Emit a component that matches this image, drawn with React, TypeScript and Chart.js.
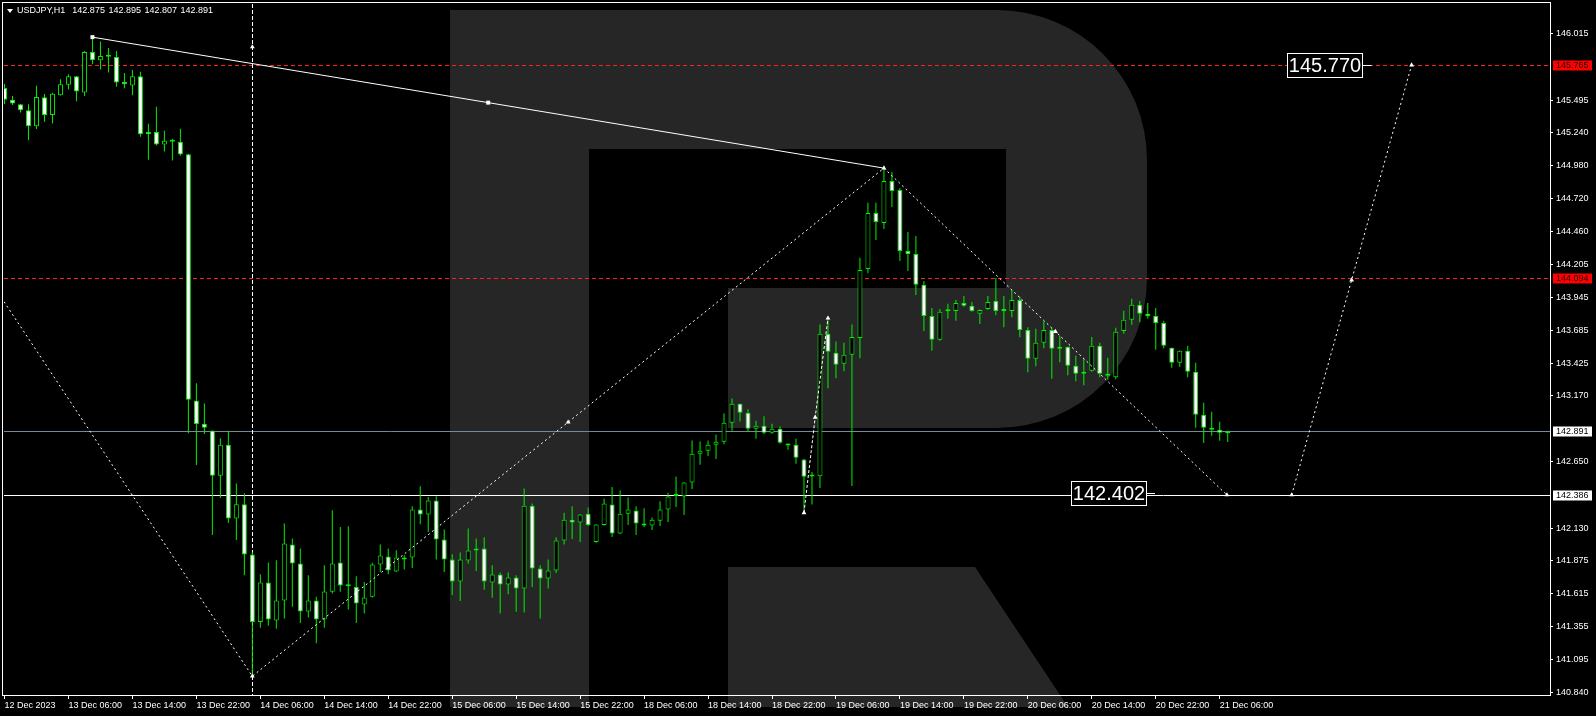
import React, { useEffect, useRef } from 'react';
import { Chart, registerables } from 'chart.js';

Chart.register(...registerables);

const symbolTitle = 'USDJPY,H1';
const lastQuote = ['142.875', '142.895', '142.807', '142.891'];

const opens = [
  145.591, 145.497, 145.463, 145.416, 145.290, 145.518, 145.377, 145.534, 145.615, 145.683,
  145.554, 145.874, 145.808, 145.835, 145.834, 145.638, 145.609, 145.683, 145.245, 145.245,
  145.146, 145.167, 145.167, 145.070, 143.133, 142.950, 142.895, 142.542, 142.785, 142.204,
  142.317, 141.922, 141.392, 141.702, 141.403, 141.560, 142.000, 141.851, 141.474, 141.560,
  141.411, 141.628, 141.859, 141.673, 141.667, 141.529, 141.589, 141.843, 141.906, 141.788,
  141.882, 141.898, 142.275, 142.236, 142.346, 142.039, 141.882, 141.710, 141.874, 141.953,
  141.969, 141.702, 141.764, 141.686, 141.741, 141.655, 142.306, 141.812, 141.733, 141.796,
  142.032, 142.196, 142.173, 142.243, 142.020, 142.154, 142.314, 142.086, 142.243, 142.267,
  142.165, 142.149, 142.188, 142.275, 142.382, 142.377, 142.487, 142.715, 142.738, 142.785,
  142.809, 142.958, 143.107, 143.037, 142.911, 142.934, 142.880, 142.911, 142.793, 142.785,
  142.668, 142.536, 142.538, 143.657, 143.508, 143.421, 143.492, 143.625, 144.167, 144.607,
  144.529, 144.858, 144.788, 144.309, 144.285, 144.042, 143.798, 143.610, 143.834, 143.837,
  143.900, 143.877, 143.814, 143.853, 143.916, 143.837, 143.837, 143.924, 143.688, 143.461,
  143.586, 143.688, 143.539, 143.555, 143.406, 143.359, 143.366, 143.563, 143.343, 143.316,
  143.680, 143.767, 143.885, 143.814, 143.798, 143.743, 143.547, 143.429, 143.523, 143.359,
  143.021, 142.919, 142.903, 142.875,
];

const highs = [
  145.622, 145.528, 145.465, 145.463, 145.607, 145.542, 145.552, 145.659, 145.699, 145.685,
  145.882, 145.991, 145.955, 145.905, 145.882, 145.709, 145.732, 145.717, 145.308, 145.442,
  145.253, 145.191, 145.269, 145.073, 143.269, 143.110, 142.898, 142.835, 142.895, 142.481,
  142.403, 141.940, 141.767, 141.859, 141.877, 142.165, 142.047, 141.969, 141.759, 141.589,
  141.838, 142.269, 142.138, 142.144, 141.751, 141.706, 141.856, 142.000, 141.969, 141.955,
  141.916, 142.301, 142.458, 142.374, 142.379, 142.118, 141.924, 141.937, 142.126, 142.047,
  142.057, 141.838, 141.780, 141.780, 141.759, 142.440, 142.322, 141.838, 141.882, 142.057,
  142.251, 142.301, 142.238, 142.291, 142.160, 142.361, 142.452, 142.426, 142.371, 142.301,
  142.285, 142.212, 142.340, 142.408, 142.536, 142.490, 142.819, 142.811, 142.819, 142.866,
  143.031, 143.149, 143.110, 143.063, 142.974, 143.008, 142.950, 142.929, 142.795, 142.832,
  142.675, 142.570, 143.730, 143.793, 143.596, 143.586, 143.730, 144.256, 144.688, 144.688,
  144.960, 144.929, 144.803, 144.458, 144.426, 144.073, 143.861, 143.853, 143.893, 143.924,
  143.955, 143.908, 143.848, 143.955, 144.097, 143.955, 144.002, 143.950, 143.709, 143.696,
  143.756, 143.704, 143.641, 143.558, 143.484, 143.461, 143.633, 143.586, 143.468, 143.704,
  143.838, 143.932, 143.916, 143.900, 143.861, 143.759, 143.550, 143.526, 143.563, 143.429,
  143.115, 143.044, 142.966, 142.895,
];

const lows = [
  145.465, 145.457, 145.397, 145.180, 145.267, 145.324, 145.311, 145.532, 145.578, 145.485,
  145.528, 145.777, 145.735, 145.711, 145.599, 145.589, 145.534, 145.206, 145.026, 145.138,
  145.091, 145.020, 145.057, 142.876, 142.625, 142.869, 142.075, 142.366, 142.170, 142.036,
  141.759, 140.970, 141.345, 141.361, 141.337, 141.419, 141.510, 141.384, 141.427, 141.223,
  141.345, 141.615, 141.628, 141.490, 141.384, 141.458, 141.584, 141.785, 141.767, 141.785,
  141.804, 141.816, 142.159, 142.099, 141.882, 141.785, 141.604, 141.557, 141.851, 141.793,
  141.644, 141.581, 141.458, 141.610, 141.471, 141.466, 141.667, 141.419, 141.655, 141.777,
  142.000, 142.044, 142.020, 142.146, 142.015, 142.150, 142.060, 142.083, 142.154, 142.075,
  142.138, 142.115, 142.146, 142.177, 142.295, 142.232, 142.437, 142.628, 142.696, 142.672,
  142.788, 142.895, 142.968, 142.887, 142.832, 142.869, 142.872, 142.793, 142.746, 142.636,
  142.269, 142.314, 142.445, 143.230, 143.308, 143.363, 142.460, 143.465, 144.133, 144.395,
  144.481, 144.654, 144.230, 144.152, 143.963, 143.680, 143.523, 143.602, 143.775, 143.759,
  143.869, 143.830, 143.735, 143.845, 143.803, 143.709, 143.787, 143.630, 143.355, 143.403,
  143.544, 143.304, 143.434, 143.332, 143.285, 143.253, 143.359, 143.316, 143.296, 143.300,
  143.657, 143.728, 143.751, 143.775, 143.531, 143.544, 143.390, 143.398, 143.316, 142.919,
  142.798, 142.856, 142.817, 142.807,
];

const closes = [
  145.497, 145.469, 145.416, 145.290, 145.520, 145.377, 145.544, 145.620, 145.683, 145.563,
  145.874, 145.808, 145.842, 145.838, 145.633, 145.620, 145.683, 145.227, 145.227, 145.146,
  145.175, 145.171, 145.067, 143.139, 142.947, 142.919, 142.542, 142.785, 142.204, 142.317,
  141.922, 141.392, 141.702, 141.411, 141.560, 142.008, 141.851, 141.474, 141.560, 141.411,
  141.631, 141.851, 141.678, 141.677, 141.537, 141.584, 141.843, 141.914, 141.796, 141.898,
  141.898, 142.275, 142.236, 142.346, 142.039, 141.882, 141.710, 141.882, 141.953, 141.969,
  141.710, 141.764, 141.686, 141.741, 141.655, 142.306, 141.812, 141.733, 141.796, 142.032,
  142.196, 142.173, 142.236, 142.154, 142.157, 142.322, 142.086, 142.243, 142.275, 142.165,
  142.149, 142.196, 142.275, 142.377, 142.385, 142.487, 142.715, 142.738, 142.785, 142.809,
  142.958, 143.107, 143.037, 142.911, 142.934, 142.880, 142.911, 142.801, 142.778, 142.683,
  142.534, 142.540, 143.657, 143.516, 143.413, 143.492, 143.633, 144.159, 144.607, 144.536,
  144.858, 144.780, 144.309, 144.285, 144.042, 143.798, 143.610, 143.830, 143.837, 143.900,
  143.877, 143.837, 143.845, 143.908, 143.837, 143.840, 143.924, 143.688, 143.461, 143.586,
  143.688, 143.539, 143.555, 143.406, 143.343, 143.343, 143.563, 143.343, 143.327, 143.673,
  143.767, 143.885, 143.814, 143.798, 143.743, 143.563, 143.429, 143.523, 143.359, 143.021,
  142.919, 142.903, 142.880, 142.891,
];

const timeLabels = [
  '12 Dec 2023', '13 Dec 06:00', '13 Dec 14:00', '13 Dec 22:00', '14 Dec 06:00',
  '14 Dec 14:00', '14 Dec 22:00', '15 Dec 06:00', '15 Dec 14:00', '15 Dec 22:00',
  '18 Dec 06:00', '18 Dec 14:00', '18 Dec 22:00', '19 Dec 06:00', '19 Dec 14:00',
  '19 Dec 22:00', '20 Dec 06:00', '20 Dec 14:00', '20 Dec 22:00', '21 Dec 06:00',
];
const LABEL_STEP = 8;

const priceTicks = [
  146.015, 145.495, 145.240, 144.980, 144.720, 144.460, 144.205, 143.945, 143.685,
  143.425, 143.170, 142.650, 142.130, 141.875, 141.615, 141.355, 141.095, 140.840,
];

const redLevels = [145.765, 144.094];
const bidLevel = 142.891;
const supportLevel = 142.386;
const vLineIndex = 31;

const trendLine = [{ x: 11, y: 145.99 }, { x: 110, y: 144.96 }];
const trendHandles = [{ x: 11, y: 145.99 }, { x: 60.5, y: 145.475 }];
const forecastDown = [
  { x: -0.0625, y: 143.91 }, { x: 31, y: 140.965 }, { x: 110, y: 144.96 }, { x: 152.9, y: 142.39 },
];
const forecastUp = [{ x: 161, y: 142.39 }, { x: 176, y: 145.77 }];
const spikePath = [{ x: 100, y: 142.25 }, { x: 101.4, y: 143.0 }, { x: 103, y: 143.78 }];
const arrowMarks = [
  { x: 31, y: 145.913 }, { x: 31, y: 140.965 }, { x: 70.5, y: 142.962 }, { x: 110, y: 144.96 },
  { x: 131.45, y: 143.675 }, { x: 152.9, y: 142.39 }, { x: 161, y: 142.39 }, { x: 168.5, y: 144.08 },
  { x: 176, y: 145.77 }, { x: 100, y: 142.25 }, { x: 101.4, y: 143.0 }, { x: 103, y: 143.78 },
];
const targetLabels = [
  { text: '145.770', price: 145.77, right: 169.8, tail: 171 },
  { text: '142.402', price: 142.402, right: 142.8, tail: 143.9 },
];

const X_MIN = -0.0625;
const X_MAX = 193.3125;
const Y_MIN = 140.817;
const Y_MAX = 146.2506;

const GREEN = '#00f000';
const FONT = 'Liberation Sans';

export default function App() {
  const ref = useRef<HTMLCanvasElement | null>(null);

  useEffect(() => {
    document.body.style.margin = '0';
    document.body.style.background = '#000';
    const canvas = ref.current;
    if (!canvas) return;

    const idx = opens.map((_, i) => i);
    const bodyColors = idx.map((i) => {
      const d = closes[i] - opens[i];
      if (Math.abs(d) < 0.005) return GREEN;
      return d > 0 ? '#000000' : '#ffffff';
    });

    const backgroundPlugin = {
      id: 'bgWatermark',
      beforeDraw(chart: any) {
        const ctx = chart.ctx;
        ctx.save();
        ctx.fillStyle = '#000000';
        ctx.fillRect(0, 0, chart.width, chart.height);
        ctx.fillStyle = '#262626';
        ctx.fillRect(450, 10, 139, 697);
        ctx.beginPath();
        ctx.moveTo(589, 10);
        ctx.lineTo(997, 10);
        ctx.arc(997, 160, 150, -Math.PI / 2, 0);
        ctx.lineTo(1147, 278);
        ctx.arc(997, 278, 150, 0, Math.PI / 2);
        ctx.lineTo(728, 428);
        ctx.lineTo(728, 288);
        ctx.lineTo(1006, 288);
        ctx.lineTo(1006, 149);
        ctx.lineTo(589, 149);
        ctx.closePath();
        ctx.fill();
        ctx.beginPath();
        ctx.moveTo(728, 567);
        ctx.lineTo(975, 567);
        ctx.lineTo(1068, 707);
        ctx.lineTo(728, 707);
        ctx.closePath();
        ctx.fill();
        ctx.restore();
      },
      beforeDatasetsDraw(chart: any) {
        const ctx = chart.ctx;
        const { left, right, top, bottom } = chart.chartArea;
        const ys = chart.scales.y;
        const xs = chart.scales.x;
        const hline = (p: number, color: string, dash: number[]) => {
          const y = Math.floor(ys.getPixelForValue(p)) + 0.5;
          ctx.save();
          ctx.strokeStyle = color;
          ctx.lineWidth = 1;
          ctx.setLineDash(dash);
          ctx.beginPath();
          ctx.moveTo(left, y);
          ctx.lineTo(right, y);
          ctx.stroke();
          ctx.restore();
        };
        redLevels.forEach((p) => hline(p, '#ff2020', [4, 3]));
        hline(bidLevel, '#778899', []);
        hline(supportLevel, '#ffffff', []);
        const vx = Math.floor(xs.getPixelForValue(vLineIndex)) + 0.5;
        ctx.save();
        ctx.strokeStyle = '#ffffff';
        ctx.lineWidth = 1;
        ctx.setLineDash([4, 2]);
        ctx.beginPath();
        ctx.moveTo(vx, top);
        ctx.lineTo(vx, bottom);
        ctx.stroke();
        ctx.restore();
      },
      afterDraw(chart: any) {
        const ctx = chart.ctx;
        const ys = chart.scales.y;
        const xs = chart.scales.x;
        ctx.save();
        ctx.strokeStyle = '#ffffff';
        ctx.lineWidth = 1;
        ctx.strokeRect(2.5, 2.5, 1548, 693);
        const axisBox = (p: number, bg: string, fg: string) => {
          const y = Math.floor(ys.getPixelForValue(p)) + 0.5;
          ctx.fillStyle = bg;
          ctx.fillRect(1553, y - 5, 39, 10);
          ctx.fillStyle = fg;
          ctx.font = `9px "${FONT}"`;
          ctx.textAlign = 'left';
          ctx.textBaseline = 'middle';
          ctx.fillText(p.toFixed(3), 1556, y);
        };
        redLevels.forEach((p) => axisBox(p, '#ff0000', '#200000'));
        axisBox(bidLevel, '#ffffff', '#000000');
        axisBox(supportLevel, '#ffffff', '#000000');
        targetLabels.forEach((t) => {
          const yc = ys.getPixelForValue(t.price);
          const xr = Math.round(xs.getPixelForValue(t.right)) + 0.5;
          const xt = xs.getPixelForValue(t.tail);
          const w = 75;
          const h = 24;
          const y0 = Math.round(yc - h / 2) + 0.5;
          ctx.fillStyle = '#000000';
          ctx.fillRect(xr - w, y0, w, h);
          ctx.strokeStyle = '#ffffff';
          ctx.strokeRect(xr - w, y0, w, h);
          ctx.beginPath();
          ctx.moveTo(xr, Math.floor(yc) + 0.5);
          ctx.lineTo(xt, Math.floor(yc) + 0.5);
          ctx.stroke();
          ctx.fillStyle = '#ffffff';
          ctx.font = `20px "${FONT}"`;
          ctx.textAlign = 'center';
          ctx.textBaseline = 'middle';
          ctx.fillText(t.text, xr - w / 2, yc + 1);
        });
        ctx.fillStyle = '#ffffff';
        ctx.beginPath();
        ctx.moveTo(7, 9);
        ctx.lineTo(13, 9);
        ctx.lineTo(10, 13);
        ctx.closePath();
        ctx.fill();
        ctx.font = `9px "${FONT}"`;
        ctx.textAlign = 'left';
        ctx.textBaseline = 'middle';
        ctx.fillText(symbolTitle, 17, 11);
        let tx = 17 + ctx.measureText(symbolTitle).width + 7;
        lastQuote.forEach((q) => {
          ctx.fillText(q, tx, 11);
          tx += ctx.measureText(q).width + 3.5;
        });
        ctx.restore();
      },
    };

    const lineDs = (data: any[], dash: number[], extra: any = {}) => ({
      type: 'line',
      data,
      borderColor: '#ffffff',
      borderWidth: 1,
      borderDash: dash,
      pointRadius: 0,
      tension: 0,
      fill: false,
      order: 0,
      ...extra,
    });

    const chart = new Chart(canvas, {
      type: 'bar',
      data: {
        datasets: [
          {
            type: 'bar',
            data: idx.map((i) => ({ x: i, y: [lows[i], highs[i]] })),
            backgroundColor: GREEN,
            borderWidth: 0,
            barThickness: 1,
            grouped: false,
            inflateAmount: 0,
            order: 10,
          },
          {
            type: 'bar',
            data: idx.map((i) => ({ x: i, y: [opens[i], closes[i]] })),
            backgroundColor: bodyColors,
            borderColor: GREEN,
            borderWidth: 1,
            borderSkipped: false,
            barThickness: 5,
            minBarLength: 2,
            grouped: false,
            inflateAmount: 0,
            order: 9,
          },
          lineDs(trendLine, []),
          lineDs(forecastDown, [2, 3]),
          lineDs(forecastUp, [2, 3]),
          lineDs(spikePath, [3, 2]),
          lineDs(arrowMarks, [], {
            showLine: false,
            pointRadius: 2.8,
            pointStyle: 'triangle',
            pointBackgroundColor: '#ffffff',
            pointBorderColor: '#ffffff',
            pointBorderWidth: 0,
          }),
          lineDs(trendHandles, [], {
            showLine: false,
            pointRadius: 2.8,
            pointStyle: 'rect',
            pointBackgroundColor: '#ffffff',
            pointBorderColor: '#ffffff',
            pointBorderWidth: 0,
          }),
        ] as any,
      },
      options: {
        responsive: false,
        animation: false,
        events: [],
        layout: { padding: { left: 3, top: 3, right: 0, bottom: 0 } },
        plugins: { legend: { display: false }, tooltip: { enabled: false } },
        scales: {
          x: {
            type: 'linear',
            min: X_MIN,
            max: X_MAX,
            offset: false,
            grid: {
              display: true,
              drawOnChartArea: false,
              drawTicks: true,
              tickLength: 4,
              color: '#ffffff',
              offset: false,
            },
            border: { display: true, color: '#ffffff' },
            ticks: {
              autoSkip: false,
              maxRotation: 0,
              minRotation: 0,
              align: 'start',
              padding: 1,
              color: '#ffffff',
              font: { family: FONT, size: 9 },
              callback: (v: any) => timeLabels[Math.round(Number(v) / LABEL_STEP)] ?? '',
            },
            afterBuildTicks: (s: any) => {
              s.ticks = timeLabels.map((_, i) => ({ value: i * LABEL_STEP }));
            },
            afterFit: (s: any) => {
              s.height = 21;
              s.paddingLeft = 0;
              s.paddingRight = 0;
            },
          },
          y: {
            type: 'linear',
            position: 'right',
            min: Y_MIN,
            max: Y_MAX,
            grid: {
              display: true,
              drawOnChartArea: false,
              drawTicks: true,
              tickLength: 3,
              color: '#ffffff',
            },
            border: { display: true, color: '#ffffff' },
            ticks: {
              padding: 3,
              color: '#ffffff',
              font: { family: FONT, size: 9 },
              callback: (v: any) => Number(v).toFixed(3),
            },
            afterBuildTicks: (s: any) => {
              s.ticks = priceTicks.map((v) => ({ value: v }));
            },
            afterFit: (s: any) => {
              s.width = 46;
              s.paddingTop = 0;
              s.paddingBottom = 0;
            },
          },
        },
      } as any,
      plugins: [backgroundPlugin],
    });

    return () => chart.destroy();
  }, []);

  return (
    <canvas
      ref={ref}
      width={1596}
      height={716}
      style={{ display: 'block', position: 'fixed', left: 0, top: 0 }}
    />
  );
}
